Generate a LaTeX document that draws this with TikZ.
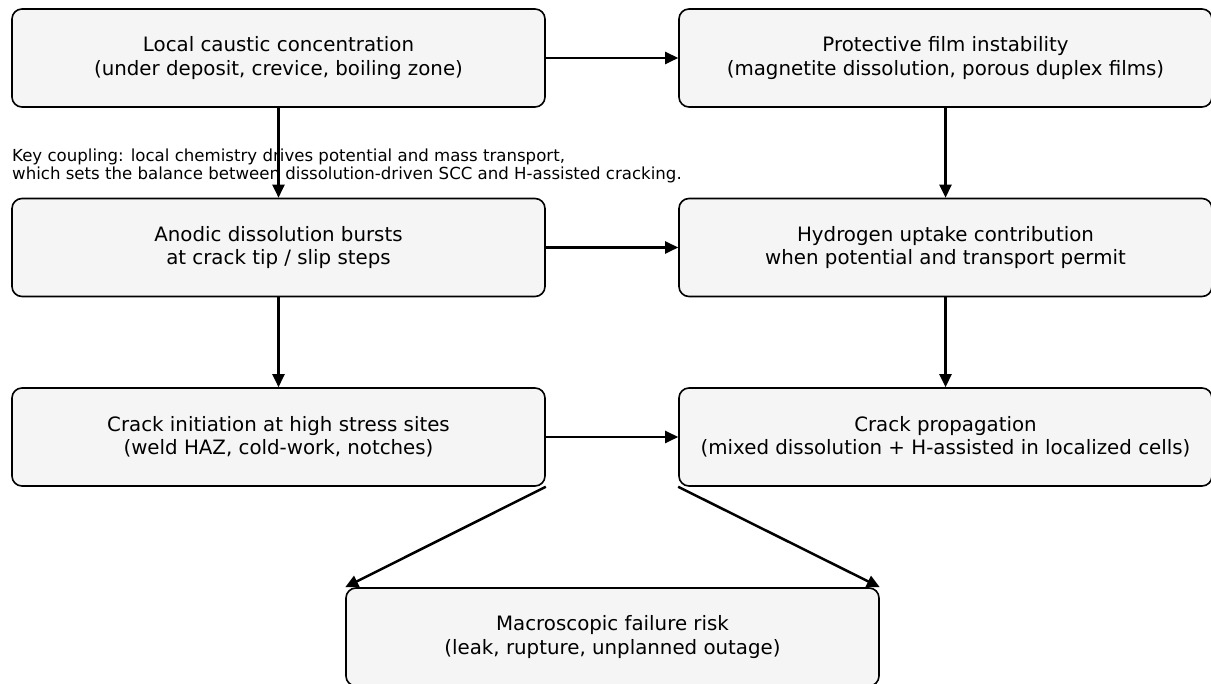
\documentclass[tikz,border=0pt]{standalone}
\usepackage{fontspec}
\setmainfont{DejaVu Sans}
\usepackage{tikz}
\usetikzlibrary{positioning,arrows.meta}

\tikzset{
  stage/.style={draw=black, line width=1.6pt, fill=gray!8, rounded corners=10pt,
    minimum width=533pt, minimum height=98pt, align=center, inner sep=0pt,
    font=\fontsize{19.8}{23.5}\selectfont},
  flow/.style={line width=2.5pt, -{Triangle[length=13pt,width=12pt]}}
}

\begin{document}
\begin{tikzpicture}[x=1pt,y=-1pt]

		\useasboundingbox (0,0) rectangle (1211,684);

		% left column
		\node[stage] (caustic) at (278.5,58) {Local caustic concentration\\(under deposit, crevice, boiling zone)};
		\node[stage] (anodic) at (278.5,247.5) {Anodic dissolution bursts\\at crack tip / slip steps};
		\node[stage] (initiation) at (278.5,437) {Crack initiation at high stress sites\\(weld HAZ, cold-work, notches)};

		% right column
		\node[stage] (film) at (945.5,58) {Protective film instability\\(magnetite dissolution, porous duplex films)};
		\node[stage] (hydrogen) at (945.5,247.5) {Hydrogen uptake contribution\\when potential and transport permit};
		\node[stage] (propagation) at (945.5,437) {Crack propagation\\(mixed dissolution + H-assisted in localized cells)};

		% outcome
		\node[stage] (failure) at (612.5,637) {Macroscopic failure risk\\(leak, rupture, unplanned outage)};

		\node[anchor=west, align=left, inner sep=0pt, font=\fontsize{16.6}{18}\selectfont]
		(note) at (12,166)
		{Key coupling: local chemistry drives potential and mass transport,\\which sets the balance between dissolution-driven SCC and H-assisted cracking.};

		\draw[flow] (caustic) -- (film);
		\draw[flow] (anodic) -- (hydrogen);
		\draw[flow] (initiation) -- (propagation);

		\draw[flow] (caustic) -- (anodic);
		\draw[flow] (anodic) -- (initiation);
		\draw[flow] (film) -- (hydrogen);
		\draw[flow] (hydrogen) -- (propagation);

		\draw[flow] (initiation.south east) -- (failure.north west);
		\draw[flow] (propagation.south west) -- (failure.north east);

	\end{tikzpicture}
\end{document}
